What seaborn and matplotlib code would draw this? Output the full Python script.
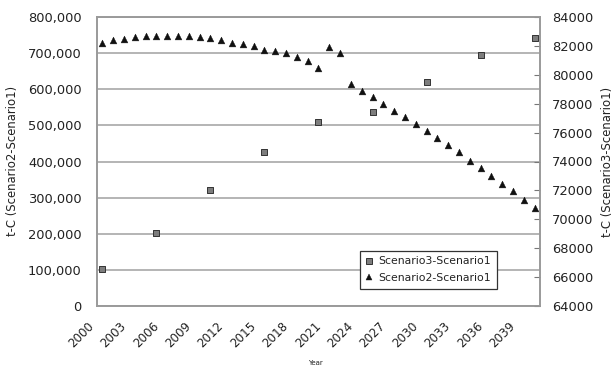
import matplotlib
matplotlib.use("Agg")
import numpy as np
import pandas as pd
import seaborn as sns
import matplotlib.pyplot as plt
from matplotlib.ticker import FuncFormatter
from matplotlib.lines import Line2D
from matplotlib.transforms import ScaledTranslation

# ---------------- data ----------------
years = list(range(2000, 2041))
scen2_minus_scen1 = [727000, 736000, 739000, 745000, 747000, 747000, 747000, 747000,
                     747000, 744000, 741000, 736000, 729000, 725000, 719000, 710000,
                     707000, 701000, 689000, 677000, 660000, 716000, 700000, 614500,
                     594000, 578000, 559000, 541000, 524000, 505000, 485000, 465000,
                     445000, 425000, 402000, 381000, 359000, 339000, 317000, 294000,
                     270000]
scen3_years = [2000, 2005, 2010, 2015, 2020, 2025, 2030, 2035, 2040]
scen3_minus_scen1 = [66580, 69030, 72030, 74640, 76730, 77400, 79480, 81370, 82570]
xtick_years = list(range(2000, 2040, 3))
xtick_labels = [str(y) for y in xtick_years]
left_ticks = list(range(0, 800001, 100000))
right_ticks = list(range(64000, 84001, 2000))
series_names = ["Scenario3-Scenario1", "Scenario2-Scenario1"]

# ---------------- style ----------------
sns.set_style("white")
plt.rcParams["font.family"] = ["DejaVu Sans"]
TXT = "#222222"
GRID = "#a8a8a8"
SPINE = "#9a9a9a"

W, H = 613, 370
fig = plt.figure(figsize=(W / 100, H / 100), dpi=100)
ax = fig.add_axes([97 / W, 1 - 306 / H, 443 / W, 289 / H])
ax2 = ax.twinx()

df2 = pd.DataFrame({"Year": years, "value": scen2_minus_scen1})
df3 = pd.DataFrame({"Year": scen3_years, "value": scen3_minus_scen1})

sns.scatterplot(data=df2, x="Year", y="value", marker="^", s=24,
                color="#111111", edgecolor="#111111", linewidth=0.3,
                ax=ax, legend=False, zorder=3)
sns.scatterplot(data=df3, x="Year", y="value", marker="s", s=14,
                color="#7d7d7d", edgecolor="#333333", linewidth=0.7,
                ax=ax2, legend=False, zorder=3)

ax.set_xlim(1999.5, 2040.5)
ax.set_ylim(0, 800000)
ax2.set_ylim(64000, 84000)

ax.set_yticks(left_ticks)
ax.yaxis.set_major_formatter(FuncFormatter(lambda v, p: f"{int(v):,}"))
ax.yaxis.grid(True, color=GRID, lw=1.2)
ax.xaxis.grid(False)
ax.set_axisbelow(True)
ax.tick_params(axis="y", length=0, pad=11, labelsize=9.4, labelcolor=TXT)

ax2.set_yticks(right_ticks)
ax2.tick_params(axis="y", direction="in", length=4, width=0.8, color="#777777",
                pad=8.4, labelsize=9.4, labelcolor=TXT)
ax2.grid(False)

ax.set_xticks(xtick_years)
ax.set_xticklabels(xtick_labels, rotation=45, ha="right")
ax.tick_params(axis="x", which="major", length=0, pad=9.5, labelsize=8.6, labelcolor=TXT)
ax.set_xticks(np.arange(1999.5, 2041, 1.0), minor=True)
ax.tick_params(axis="x", which="minor", direction="in", length=3.5, width=0.8,
               color="#888888")
offset = ScaledTranslation(-6 / 100, 0, fig.dpi_scale_trans)
for lab in ax.get_xticklabels():
    lab.set_transform(lab.get_transform() + offset)

for a in (ax, ax2):
    a.set_xlabel("")
    a.set_ylabel("")
    for sp in a.spines.values():
        sp.set_color(SPINE)
        sp.set_linewidth(1.2)

handles = [
    Line2D([], [], marker="s", ls="none", markersize=3.7, mfc="#7d7d7d",
           mec="#333333", mew=0.7),
    Line2D([], [], marker="^", ls="none", markersize=4.8, mfc="#111111",
           mec="#111111", mew=0.3),
]
leg = ax2.legend(handles, series_names, loc="lower left",
                 bbox_to_anchor=(0.594, 0.059), borderaxespad=0, frameon=True,
                 fancybox=False, edgecolor="#333333", facecolor="white",
                 framealpha=1, fontsize=7.8, handlelength=0.6, handletextpad=0.5,
                 borderpad=0.55, labelspacing=0.6)
leg.get_frame().set_linewidth(0.9)
for t in leg.get_texts():
    t.set_color(TXT)

fig.text(13 / W, 1 - 161 / H, "t-C (Scenario2-Scenario1)", rotation=90,
         ha="center", va="center", fontsize=8.4, color=TXT)
fig.text(608 / W, 1 - 162 / H, "t-C (Scenario3-Scenario1)", rotation=90,
         ha="center", va="center", fontsize=8.4, color=TXT)
fig.text(315 / W, 1 - 363 / H, "Year", ha="center", va="center", fontsize=5,
         color=TXT)

fig.savefig("out.png", dpi=100)
